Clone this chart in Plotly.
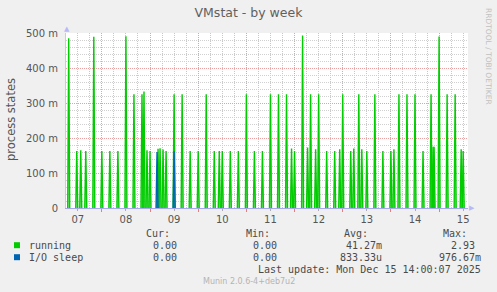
import plotly.graph_objects as go
import pandas as pd

# ---------------- data (values in milli-units, "m") ----------------
running_times = [
    "2025-12-07 07:30", "2025-12-07 11:30", "2025-12-07 13:30", "2025-12-07 16:00", "2025-12-07 20:00",
    "2025-12-08 00:00", "2025-12-08 04:00", "2025-12-08 08:00", "2025-12-08 12:00", "2025-12-08 16:00",
    "2025-12-08 20:00", "2025-12-08 21:00", "2025-12-08 22:30",
    "2025-12-09 00:00", "2025-12-09 04:00", "2025-12-09 05:00", "2025-12-09 06:30", "2025-12-09 08:00",
    "2025-12-09 12:00", "2025-12-09 16:00", "2025-12-09 20:00",
    "2025-12-10 00:00", "2025-12-10 04:00", "2025-12-10 08:00", "2025-12-10 10:30", "2025-12-10 12:00",
    "2025-12-10 16:00", "2025-12-10 20:00",
    "2025-12-11 00:00", "2025-12-11 04:00", "2025-12-11 08:00", "2025-12-11 12:00", "2025-12-11 16:00",
    "2025-12-11 20:00", "2025-12-11 22:30",
    "2025-12-12 00:00", "2025-12-12 04:00", "2025-12-12 06:30", "2025-12-12 08:00", "2025-12-12 10:30",
    "2025-12-12 12:00", "2025-12-12 16:00", "2025-12-12 20:00", "2025-12-12 22:30",
    "2025-12-13 00:00", "2025-12-13 04:00", "2025-12-13 05:30", "2025-12-13 08:00", "2025-12-13 09:30",
    "2025-12-13 12:00", "2025-12-13 16:00", "2025-12-13 20:00",
    "2025-12-14 00:00", "2025-12-14 01:30", "2025-12-14 04:00", "2025-12-14 08:00", "2025-12-14 12:00",
    "2025-12-14 16:00", "2025-12-14 20:00", "2025-12-14 21:00", "2025-12-14 21:30",
    "2025-12-15 00:00", "2025-12-15 04:00", "2025-12-15 08:00", "2025-12-15 11:00", "2025-12-15 12:00",
]
running_values = [
    485, 163, 165, 163, 489,
    163, 163, 163, 491, 325,
    325, 333, 165,
    163, 169, 171, 167, 163,
    325, 325, 163,
    163, 325, 163, 163, 163,
    163, 163,
    325, 163, 163, 325, 325,
    325, 170,
    163, 493, 173, 325, 168,
    325, 163, 163, 168,
    325, 163, 170, 325, 168,
    163, 325, 163,
    163, 168, 325, 325, 325,
    163, 325, 175, 175,
    490, 325, 325, 168, 163,
]
io_times = ["2025-12-09 03:30", "2025-12-09 12:00"]
io_values = [160, 162]

day_ticks = ["2025-12-%02d 12:00" % d for d in range(7, 16)]
day_labels = ["07", "08", "09", "10", "11", "12", "13", "14", "15"]
y_ticks = [0, 100, 200, 300, 400, 500]
y_labels = ["0", "100 m", "200 m", "300 m", "400 m", "500 m"]

legend_names = ["running", "I/O sleep"]
legend_colors = ["#00CC00", "#0066B3"]
stat_headers = ["Cur:", "Min:", "Avg:", "Max:"]
stats = [
    ["0.00", "0.00", "41.27m", "2.93"],
    ["0.00", "0.00", "833.33u", "976.67m"],
]
last_update = "Last update: Mon Dec 15 14:00:07 2025"
footer = "Munin 2.0.6-4+deb7u2"

x_range = ["2025-12-07 06:09", "2025-12-15 14:24"]


def spikes(times, values):
    xs, ys = [], []
    half = pd.Timedelta(minutes=30)
    for t, v in zip(times, values):
        ts = pd.Timestamp(t)
        xs += [ts - half, ts, ts + half, None]
        ys += [0, v, 0, None]
    return xs, ys


fig = go.Figure()
rx, ry = spikes(running_times, running_values)
fig.add_trace(go.Scatter(x=rx, y=ry, mode="lines", line=dict(color="#00CC00", width=1.4),
                         fill="tozeroy", fillcolor="rgba(60,215,60,0.6)", connectgaps=False,
                         hoverinfo="skip"))
ix, iy = spikes(io_times, io_values)
fig.add_trace(go.Scatter(x=ix, y=iy, mode="lines", line=dict(color="#0066B3", width=1.4),
                         fill="tozeroy", fillcolor="rgba(0,102,179,0.5)", connectgaps=False,
                         hoverinfo="skip"))
# invisible trace to activate the day-boundary grid axis
fig.add_trace(go.Scatter(x=x_range, y=[None, None], xaxis="x2", mode="lines", showlegend=False,
                         hoverinfo="skip"))

W, H = 497, 292
L, R, T, B = 66, 29, 33, 84
PW, PH = W - L - R, H - T - B


def px(x):
    return (x - L) / PW


def py(y):
    return (H - B - y) / PH


fig.update_layout(
    width=W, height=H,
    margin=dict(l=L, r=R, t=T, b=B),
    paper_bgcolor="#F0F0F0", plot_bgcolor="#FFFFFF",
    showlegend=False,
    font=dict(family="DejaVu Sans", size=10, color="#555555"),
    title=dict(text="VMstat - by week", x=0.5, xref="container", xanchor="center",
               y=1 - 13 / H, yref="container", yanchor="middle",
               font=dict(family="DejaVu Sans", size=12.5, color="#606060")),
    xaxis=dict(
        type="date", range=x_range, tickmode="array", tickvals=day_ticks, ticktext=day_labels,
        showgrid=False, ticks="outside", ticklen=2, tickcolor="#aaaaaa",
        tickfont=dict(size=10, color="#555555"),
        showline=True, linecolor="#a8a8f0", linewidth=1,
        minor=dict(tick0="2025-12-07 00:00", dtick=6 * 3600 * 1000, showgrid=True,
                   gridcolor="#c8c8c8", griddash="1px,1px", gridwidth=1),
        zeroline=False,
    ),
    xaxis2=dict(
        type="date", overlaying="x", matches="x", side="bottom", range=x_range,
        tickmode="linear", tick0="2025-12-08 00:00", dtick=86400000,
        showticklabels=False, showgrid=True, gridcolor="#eaa0a0", griddash="1px,1px",
        ticks="outside", ticklen=3, tickcolor="#e08080", showline=False, zeroline=False,
    ),
    yaxis=dict(
        range=[0, 500], tickmode="array", tickvals=y_ticks, ticktext=y_labels,
        showgrid=True, gridcolor="#eaa0a0", griddash="1px,1px",
        minor=dict(dtick=20, showgrid=True, gridcolor="#d0d0d0", griddash="1px,1px"),
        ticks="", ticklabelstandoff=5, tickfont=dict(size=10, color="#555555"),
        showline=True, linecolor="#c8c8f0", zeroline=False,
    ),
)

ann = []
# y-axis title
ann.append(dict(text="process states", xref="paper", yref="paper", x=px(11), y=py(120),
                textangle=-90, showarrow=False, font=dict(size=11.5, color="#555555"),
                xanchor="center", yanchor="middle"))
# axis arrows
ann.append(dict(text="▲", xref="paper", yref="paper", x=px(66.5), y=py(29), showarrow=False,
                font=dict(size=7, color="#b8b8f8"), xanchor="center", yanchor="middle"))
ann.append(dict(text="▶", xref="paper", yref="paper", x=px(472), y=py(208.3), showarrow=False,
                font=dict(size=7, color="#b8b8f8"), xanchor="center", yanchor="middle"))
# rrdtool credit
ann.append(dict(text="RRDTOOL / TOBI OETIKER", xref="paper", yref="paper", x=px(489), y=py(56),
                textangle=90, showarrow=False, font=dict(size=7.5, color="#c0c0c0"),
                xanchor="center", yanchor="middle"))
mono = "DejaVu Sans Mono"
txtcol = "#4a4a4a"
header_right = [172, 272, 370, 469]
for h, xr in zip(stat_headers, header_right):
    ann.append(dict(text=h, xref="paper", yref="paper", x=px(xr), y=py(233.5), showarrow=False,
                    xanchor="right", yanchor="middle", font=dict(family=mono, size=10, color=txtcol)))
row_y = [245.7, 257.7]
val_right = [179, 279, 384, 483]
shapes = []
for name, col, ry_, vals in zip(legend_names, legend_colors, row_y, stats):
    shapes.append(dict(type="rect", xref="paper", yref="paper", x0=px(14), x1=px(20),
                       y0=py(ry_ - 3.5), y1=py(ry_ + 2.5), fillcolor=col, line=dict(width=0)))
    ann.append(dict(text=name, xref="paper", yref="paper", x=px(26.5), y=py(ry_), showarrow=False,
                    xanchor="left", yanchor="middle", font=dict(family=mono, size=10, color=txtcol)))
    for i, (v, xr) in enumerate(zip(vals, val_right)):
        # values without unit suffix leave one blank column (rrdtool formatting)
        has_unit = v[-1].isalpha()
        xr2 = xr if (has_unit or i < 2) else xr - 6
        ann.append(dict(text=v, xref="paper", yref="paper", x=px(xr2), y=py(ry_), showarrow=False,
                        xanchor="right", yanchor="middle",
                        font=dict(family=mono, size=10, color=txtcol)))
ann.append(dict(text=last_update, xref="paper", yref="paper", x=px(483), y=py(269.7), showarrow=False,
                xanchor="right", yanchor="middle", font=dict(family=mono, size=10, color=txtcol)))
ann.append(dict(text=footer, xref="paper", yref="paper", x=px(249), y=py(281), showarrow=False,
                xanchor="center", yanchor="middle", font=dict(family="DejaVu Sans", size=8, color="#b4b4b4")))
fig.update_layout(annotations=ann, shapes=shapes)

fig.write_html("out.html")
